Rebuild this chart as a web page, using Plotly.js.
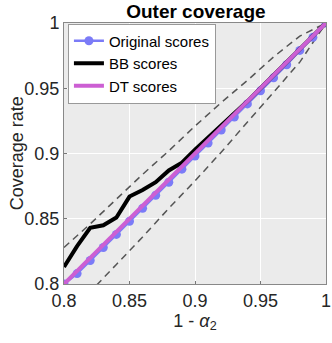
<!DOCTYPE html>
<html>
<head>
<meta charset="utf-8">
<script src="https://cdn.plot.ly/plotly-3.0.1.min.js"></script>
<style>
  html, body { margin: 0; padding: 0; background: #fff; }
  #chart { width: 332px; height: 343px; }
</style>
</head>
<body>
<div id="chart"></div>
<script>
// nominal level 1 - alpha_2
const levels = [0.80, 0.81, 0.82, 0.83, 0.84, 0.85, 0.86, 0.87, 0.88, 0.89, 0.90,
                0.91, 0.92, 0.93, 0.94, 0.95, 0.96, 0.97, 0.98, 0.99, 1.00];

const originalScores = [0.800, 0.808, 0.818, 0.828, 0.838, 0.848, 0.858, 0.868, 0.878, 0.888, 0.898,
                        0.908, 0.918, 0.928, 0.938, 0.948, 0.958, 0.968, 0.979, 0.989, 1.000];
const bbScores = [0.813, 0.829, 0.843, 0.845, 0.851, 0.867, 0.872, 0.878, 0.887, 0.893, 0.903,
                  0.912, 0.921, 0.931, 0.940, 0.950, 0.960, 0.970, 0.980, 0.990, 1.000];
const dtScores = [0.800, 0.810, 0.820, 0.830, 0.840, 0.850, 0.860, 0.870, 0.880, 0.890, 0.900,
                  0.910, 0.920, 0.930, 0.940, 0.950, 0.960, 0.970, 0.980, 0.990, 1.000];

// dashed reference band
const bandX = [0.80, 0.82, 0.84, 0.86, 0.88, 0.90, 0.92, 0.94, 0.96, 0.98, 1.00];
const bandUpper = [0.828, 0.846, 0.865, 0.884, 0.902, 0.921, 0.939, 0.956, 0.974, 0.990, 1.000];
const bandLower = [0.772, 0.794, 0.815, 0.836, 0.858, 0.879, 0.901, 0.924, 0.947, 0.970, 1.000];

const tickVals = [0.8, 0.85, 0.9, 0.95, 1];
const tickText = ['0.8', '0.85', '0.9', '0.95', '1'];

const font = 'Liberation Sans, Arial, sans-serif';
const dashStyle = { color: '#555', width: 1.5, dash: '7px,5px' };

const traces = [
    { x: bandX, y: bandUpper, mode: 'lines', line: dashStyle, showlegend: false, hoverinfo: 'skip' },
    { x: bandX, y: bandLower, mode: 'lines', line: dashStyle, showlegend: false, hoverinfo: 'skip' },
    {
        x: levels, y: originalScores, name: 'Original scores', mode: 'lines+markers',
        line: { color: '#7b7bf7', width: 2.5 },
        marker: { color: '#7b7bf7', size: 9 }
    },
    {
        x: levels, y: bbScores, name: 'BB scores', mode: 'lines',
        line: { color: '#000', width: 4 }
    },
    {
        x: levels, y: dtScores, name: 'DT scores', mode: 'lines',
        line: { color: '#cc5fd3', width: 4 }
    }
];

const axisBase = {
    range: [0.8, 1],
    tickvals: tickVals,
    ticktext: tickText,
    ticks: 'inside',
    ticklen: 3,
    tickcolor: '#777',
    showline: true,
    mirror: true,
    linecolor: '#888',
    linewidth: 1,
    showgrid: true,
    gridcolor: '#fff',
    gridwidth: 1,
    zeroline: false,
    tickfont: { family: font, size: 18, color: '#262626' }
};

const layout = {
    width: 332,
    height: 343,
    margin: { l: 64, r: 6, t: 23, b: 59 },
    paper_bgcolor: '#fff',
    plot_bgcolor: '#ebebeb',
    font: { family: font, color: '#262626' },
    title: {
        text: '<b>Outer coverage</b>',
        font: { family: font, size: 19, color: '#000' },
        x: 0.59, xanchor: 'center', y: 0.985, yanchor: 'top'
    },
    xaxis: Object.assign({}, axisBase, {
        title: { text: '1 - <i>α</i><sub>2</sub>', font: { family: font, size: 18, color: '#262626' }, standoff: 0 }
    }),
    yaxis: axisBase,
    annotations: [{
        text: 'Coverage rate', textangle: -90,
        xref: 'paper', yref: 'paper', x: -0.18, y: 0.5,
        xanchor: 'center', yanchor: 'middle', showarrow: false,
        font: { family: font, size: 18, color: '#262626' }
    }],
    legend: {
        x: 0.015, y: 0.998, xanchor: 'left', yanchor: 'top',
        bgcolor: '#fff', bordercolor: '#999', borderwidth: 1,
        font: { family: font, size: 15, color: '#000' },
        itemwidth: 30,
        tracegroupgap: 0
    },
    showlegend: true
};

Plotly.newPlot('chart', traces, layout, { displayModeBar: false, staticPlot: true });
</script>
</body>
</html>
